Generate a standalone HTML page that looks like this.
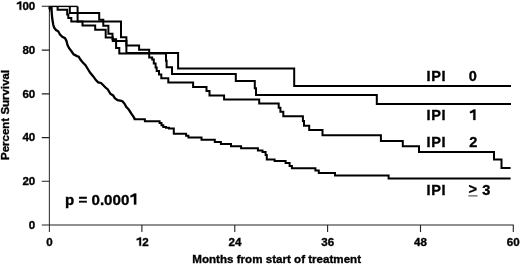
<!DOCTYPE html>
<html><head><meta charset="utf-8"><style>
html,body{margin:0;padding:0;background:#fff;}
body{width:520px;height:265px;overflow:hidden;position:relative;}
svg{position:absolute;left:0;top:0;will-change:transform;}
text{font-family:"Liberation Sans",sans-serif;font-weight:bold;fill:#000;stroke:#000;stroke-width:0.35px;}
</style></head><body>
<svg width="520" height="265" viewBox="0 0 520 265">
<g stroke="#222" stroke-width="1.1" fill="none">
<path d="M49.4 6 V232" stroke="#383838"/>
<path d="M49.4 225 H513.3 V232"/>
<path d="M41.8 6.2 H49.5 M41.8 50.1 H49.5 M41.8 93.9 H49.5 M41.8 137.6 H49.5 M41.8 181.3 H49.5 M41.8 225 H49.5"/>
<path d="M141.9 225 V232 M234.8 225 V232 M327.6 225 V232 M420.5 225 V232"/>
</g>
<g stroke="#000" stroke-width="2" fill="none" stroke-linejoin="miter" stroke-linecap="butt">
<path d="M57.6 6.4 V9.7 H67.2 V14.6 H68.3 V18 H71.3 V21.5 H82.5 V25.5 H95.2 V29.8 H105.7 V37.4 H112.8 V41 H126.4 V45.6 H139.1 V49.8 H149.2 V57.6 H152.2 V59.5 H153.8 V63.6 H155.6 V67.6 H156.7 V71.1 H159 V74.5 H161.3 V78.3 H168.3 V82.5 H193.1 V86.9 H206.5 V91.1 H209.5 V95.5 H224.1 V99.5 H259.2 V103.4 H278.7 V107.8 H280.4 V111.8 H283.3 V116.2 H302.9 V121.1 H304 V125.7 H309.2 V130.1 H322.5 V135.3 H380.9 V140.9 H402.8 V146.3 H419 V151.9 H494 V159.6 H501.5 V167.9 H510.6"/>
<path d="M69.8 6.4 V12.9 H99.2 V19.8 H103.3 V21.5"/>
<path d="M49.4 6.4 H77.6" stroke-width="1.4"/>
<path d="M77.6 6.4 V21.5 H121 V37.3 H126.4 V52.9 H178.1 V68.4 H294.2 V85.9 H511"/>
<path d="M103.3 21.5 V25.7 H108.4 V33.8 H112.5 V39.2 H116.1 V48 H119.3 V53.5 H166 V60.8 H166.6 V67.3 H172 V73.9 H235.8 V80.9 H254.8 V88.2 H256 V95 H376.8 V104 H511"/>
<path d="M49.7 6.6 V11.5" stroke-width="1.4"/>
<path stroke-width="2.3" d="M49.6 6.6 V8 H51.5 L51.8 14 L52.3 19 L52.8 22 L53.2 24.5 L54.2 27.7 L56 30 L58.2 31.3 L60 34.5 L62.3 36.8 L65 38.1 L66.5 41 L67.4 44.8 L69.1 48.2 L71.3 51 L73.6 54.4 L77 56.1 L78.7 56.7 L80.4 59.5 L82.6 62.3 L85.5 65.2 L87.5 68.5 L90.2 72.8 L93.1 76.2 L95.9 80.1 L98.2 82.4 L101 83 L103.3 85.2 L105.5 87.5 L107.8 89.5 L110.3 93.7 L113.1 95.4 L114.8 98.2 L117.6 100.2 L121.4 100.8 L122.6 101.4 L124.6 103.8 L126.2 106.9 L128.5 109.2 L130 111.5 L131.5 113.8 L133.1 116.2 L134.6 118.6 V119.2"/>
<path d="M133.6 119.2 H144.9 V121.2 H159.6 V123 H161.5 V125.3 H163.3 V127 H166 V127.8 H169 V128.6 H173.8 V133.8 H186.1 V135.7 H188.4 V137.5 H201.5 V139.8 H214.8 V142.1 H220.9 V143.9 H231 V146.2 H241.1 V148.3 H257.9 V150.4 H262.5 V152.1 H265.6 V155 H266.8 V159.4 H274.6 V161.1 H285.6 V163.1 H289.6 V166 H291.9 V168.2 H315.4 V170.6 H318.8 V173 H335 V175.6 H388.6 V178.4 H510.6"/>
</g>
<g font-size="11.6" text-anchor="end">
<text x="35.3" y="9.85">00</text>
<text x="35.3" y="53.6">80</text>
<text x="35.3" y="97.8">60</text>
<text x="35.3" y="141.2">40</text>
<text x="35.3" y="185.1">20</text>
<text x="35.3" y="229.3">0</text>
</g>
<g font-size="11.6" text-anchor="middle">
<text x="49.4" y="245.8">0</text>
<text x="235" y="245.8">24</text>
<text x="327.8" y="245.8">36</text>
<text x="420.5" y="245.8">48</text>
<text x="513.3" y="245.8">60</text>
</g>
<text font-size="11.6" x="142.20" y="245.8">2</text>
<g fill="#000" stroke="#000" stroke-width="0.3">
<path d="M0.458 -0.725 V0 H0.308 V-0.55 Q0.2 -0.49 0.08 -0.475 V-0.6 Q0.25 -0.64 0.318 -0.725 Z" vector-effect="non-scaling-stroke" transform="translate(15.95,9.85) scale(11.6)"/>
<path d="M0.458 -0.725 V0 H0.308 V-0.55 Q0.2 -0.49 0.08 -0.475 V-0.6 Q0.25 -0.64 0.318 -0.725 Z" vector-effect="non-scaling-stroke" transform="translate(135.75,245.8) scale(11.6)"/>
<path d="M0.458 -0.725 V0 H0.308 V-0.55 Q0.2 -0.49 0.08 -0.475 V-0.6 Q0.25 -0.64 0.318 -0.725 Z" vector-effect="non-scaling-stroke" transform="translate(129.32,204.5) scale(15.1)"/>
</g>
<text font-size="11.6" x="192.3" y="263.2">Months from start of treatment</text>
<text font-size="11.5" transform="translate(9.4,160) rotate(-90)">Percent Survival</text>
<text font-size="15.1" x="65.1" y="204.5">p = 0.000</text>
<g font-size="14.5">
<text x="426.6" y="81.1" letter-spacing="0.55">IPI</text>
<text x="468.8" y="81.1">0</text>
<text x="426.6" y="120.1" letter-spacing="0.55">IPI</text>

<text x="426.6" y="147" letter-spacing="0.55">IPI</text>
<text x="469.2" y="147">2</text>
<text x="426.6" y="194.9" letter-spacing="0.55">IPI</text>
<text x="468.6" y="194.1">&gt;</text>
<text x="482.3" y="194.9">3</text>
</g>
<path d="M0.458 -0.725 V0 H0.308 V-0.55 Q0.2 -0.49 0.08 -0.475 V-0.6 Q0.25 -0.64 0.318 -0.725 Z" vector-effect="non-scaling-stroke" transform="translate(468.8,120.1) scale(14.5)" fill="#000" stroke="#000" stroke-width="0.25"/>
<path d="M468.4 195.9 H477.5" stroke="#333" stroke-width="1" fill="none"/>
</svg>
</body></html>
